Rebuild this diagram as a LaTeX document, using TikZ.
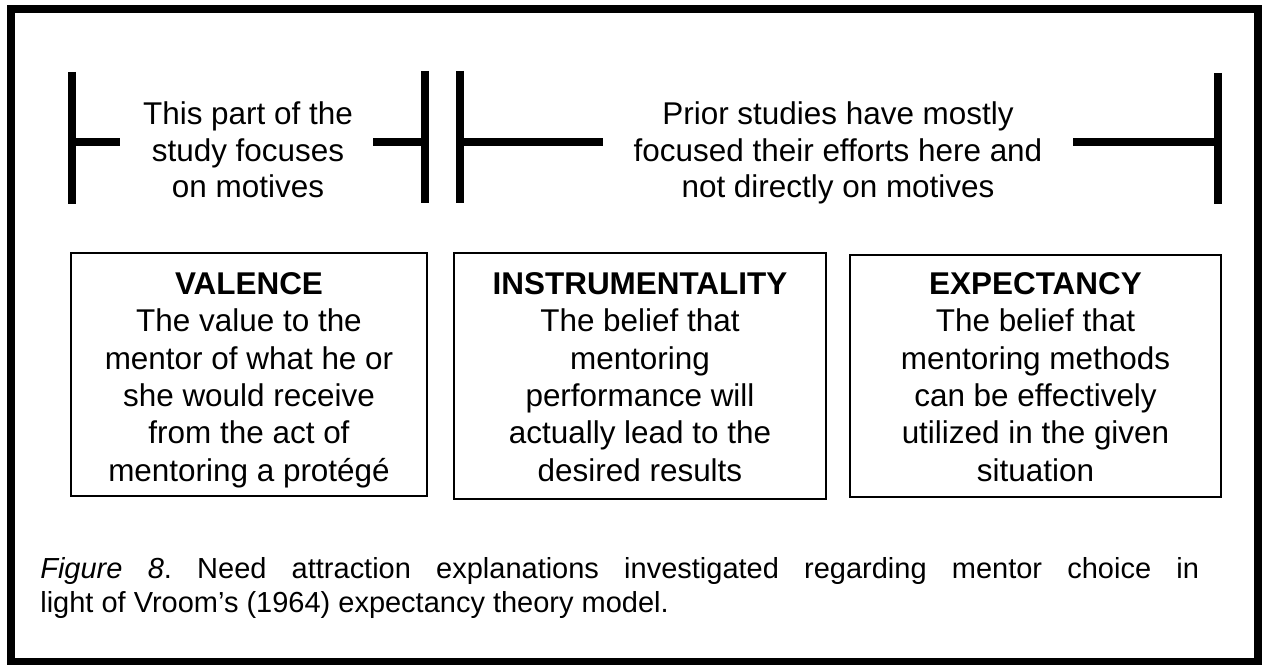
\documentclass[tikz,border=0pt]{standalone}
\usepackage{fontspec}
\setmainfont{Liberation Sans}
\usetikzlibrary{positioning}
\frenchspacing
\newcommand{\figfont}{\fontsize{17.9}{21.3}\selectfont}
\newcommand{\spanfont}{\fontsize{17.9}{20.8}\selectfont}
\newcommand{\capfont}{\fontsize{16.5}{19.9}\selectfont}
\tikzset{
  bar/.style={line width=4pt},
  motivebox/.style={draw, line width=0.9pt, inner sep=0pt},
  motivetext/.style={align=center, font=\figfont, inner sep=0pt},
  spantext/.style={align=center, font=\spanfont, inner sep=0pt}
}

\begin{document}
\begin{tikzpicture}[x=0.02cm, y=-0.02cm]
    \useasboundingbox (0,0) rectangle (1262,665);
    \draw[line width=4pt] (11,9) rectangle (1258,662);
    % left span
    \draw[bar] (72,72)   -- (72,204);
    \draw[bar] (72,142)  -- (120,142);
    \draw[bar] (425,71)  -- (425,203);
    \draw[bar] (373,142) -- (425,142);
    % right span
    \draw[bar] (460,71)   -- (460,203);
    \draw[bar] (460,142)  -- (603,142);
    \draw[bar] (1218,73)  -- (1218,204);
    \draw[bar] (1073,142) -- (1218,142);
    \node[spantext] (focus) at (248,150) {This part of the\\study focuses\\on motives};
    \node[spantext] (prior) at (838,153) {Prior studies have mostly\\focused their efforts here and\\not directly on motives};
    % the three boxes
    \node[motivebox, minimum width=7.12cm, minimum height=4.86cm] (valbox) at (249,374.5) {};
    \node[motivebox, minimum width=7.44cm, minimum height=4.92cm] (instrbox) at (640,376) {};
    \node[motivebox, minimum width=7.42cm, minimum height=4.84cm] (expbox) at (1035.5,376) {};
    \node[motivetext] (valence) at (249,380)
      {\textbf{VALENCE}\\The value to the\\mentor of what he or\\she would receive\\from the act of\\mentoring a protégé};
    \node[motivetext] (instr) at (640,377)
      {\textbf{INSTRUMENTALITY}\\The belief that\\mentoring\\performance will\\actually lead to the\\desired results};
    \node[motivetext] (expect) at (1035.5,377)
      {\textbf{EXPECTANCY}\\The belief that\\mentoring methods\\can be effectively\\utilized in the given\\situation};
    \node[anchor=west, inner sep=0pt, text width=23.18cm, align=justify, font=\capfont] (caption) at (40,588)
      {\textit{Figure 8}. Need attraction explanations investigated regarding mentor choice in\linebreak light of Vroom’s (1964) expectancy theory model.};
  \end{tikzpicture}
\end{document}
